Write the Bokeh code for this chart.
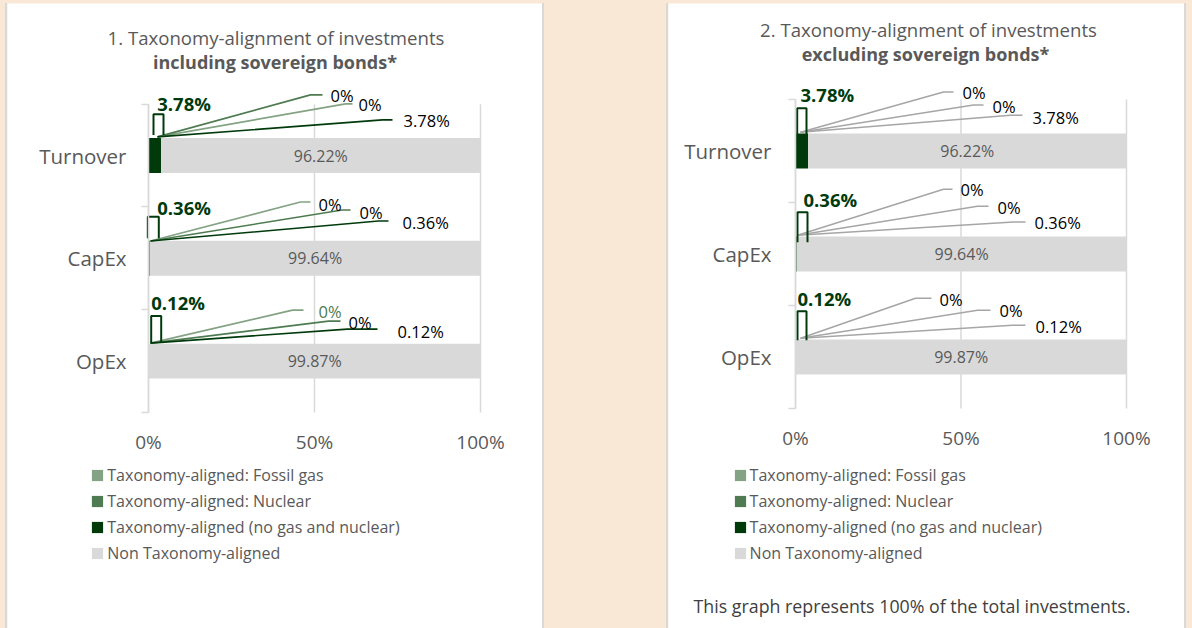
import numpy as np
from bokeh.plotting import figure
from bokeh.models import (Range1d, FixedTicker, Legend, LegendItem,
                          ColumnDataSource, Spacer)
from bokeh.layouts import row, column
from bokeh.core.properties import value
from bokeh.embed import file_html
from bokeh.resources import INLINE

# ---------------- data ----------------
categories = ["Turnover", "CapEx", "OpEx"]

fossil_gas_incl = [0, 0, 0]
nuclear_incl = [0, 0, 0]
aligned_incl = [3.78, 0.36, 0.12]
non_aligned_incl = [96.22, 99.64, 99.87]

fossil_gas_excl = [0, 0, 0]
nuclear_excl = [0, 0, 0]
aligned_excl = [3.78, 0.36, 0.12]
non_aligned_excl = [96.22, 99.64, 99.87]

x_ticks = [0, 50, 100]
x_tick_labels = ["0%", "50%", "100%"]

series_names = ["Taxonomy-aligned: Fossil gas", "Taxonomy-aligned: Nuclear",
                "Taxonomy-aligned (no gas and nuclear)", "Non Taxonomy-aligned"]

title_lines_1 = ["1. Taxonomy-alignment of investments", "including sovereign bonds*"]
title_lines_2 = ["2. Taxonomy-alignment of investments", "excluding sovereign bonds*"]
footnote = "This graph represents 100% of the total investments."

# ---------------- style ----------------
PEACH = "#FAE8D7"
GRID = "#D9D9D9"
TXT = "#595959"
COL_FOSSIL = "#84A284"
COL_NUCLEAR = "#4E7B51"
COL_ALIGNED = "#003A0B"
COL_NON = "#D9D9D9"
FONT = "Open Sans"
BAR_H = 0.34
H = 625

# leader-line layout (pixels relative to band centre / bar start), per category
# each series entry: (bend_dx, bend_up, end_dx, label_dx, label_up)
geom_1 = [
    dict(origin=(9, 18.7), bold=(8.7, 51.7), pi=(5, 15, 41.4, 20.7),
         s=[(197, 51.7, 204, 210, 50.7), (162, 60.7, 174, 182, 59.7), (234, 35.7, 244, 255, 34.7)]),
    dict(origin=(2, 17.3), bold=(8.7, 50.8), pi=(-0.7, 10.3, 41.6, 20),
         s=[(152, 56.3, 162, 170, 54.3), (193.7, 48.3, 202, 211, 46.3), (230, 37.3, 240, 254, 36.3)]),
    dict(origin=(2, 18), bold=(2.7, 59), pi=(2.7, 12.7, 45, 18),
         s=[(144, 51, 155, 170, 50), (180, 40, 192, 200, 39), (199, 32, 229, 249, 30)]),
]
geom_2 = [
    dict(origin=(5, 18.7), bold=(5, 56.7), pi=(1.7, 11, 42.7, 10.7),
         s=[(148, 59, 158, 167, 58.2), (178, 46, 188, 197, 44.7), (215, 35.7, 227, 237, 33.7)]),
    dict(origin=(2, 18.8), bold=(8, 54.8), pi=(2, 12, 41.8, 11.8),
         s=[(148, 64.8, 157, 165, 64.3), (182, 47.8, 193, 202, 46.3), (218, 32, 230, 239, 31.3)]),
    dict(origin=(5, 18.8), bold=(2, 58.8), pi=(2, 11, 45.8, 16.8),
         s=[(120, 58.8, 136, 144, 57.8), (182, 46.8, 195, 204, 46.8), (217, 31.8, 230, 240, 30.8)]),
]

# panel layout: panel page position, plot origin (0%, bottom of last band) and scales in px
cfg_1 = dict(px0=7, width=535, ox=148, oy=412, xpx=3.32, ypx=102.77, ystand=15,
             titles=[(127.5, 375), (126.5, 351)], legend=(83.3, 64))
cfg_2 = dict(px0=668, width=516, ox=795, oy=408, xpx=3.31, ypx=103.0, ystand=17,
             titles=[(133, 379), (130, 355)], legend=(64.6, 64), foot=(116.5, -197))
PAGE_TOP = 3


def pct(v):
    return "0%" if v == 0 else f"{v:.2f}%"


def make_panel(titles, fossil, nuclear, aligned, non, cfg, geom, line_cols, lbl_cols, foot=None):
    W = cfg["width"]
    xpx, ypx = cfg["xpx"], cfg["ypx"]
    x_start = -(cfg["ox"] - cfg["px0"]) / xpx
    x_end = (cfg["px0"] + W - cfg["ox"]) / xpx
    y_end = (cfg["oy"] - PAGE_TOP) / ypx
    y_start = -(PAGE_TOP + H - cfg["oy"]) / ypx

    p = figure(width=W, height=H, x_range=Range1d(x_start, x_end),
               y_range=Range1d(y_start, y_end), title=None,
               output_backend="svg", toolbar_location=None,
               min_border=0, min_border_left=0, min_border_right=0,
               min_border_top=0, min_border_bottom=0,
               border_fill_color="white", background_fill_color="white",
               outline_line_color=None)

    n = len(categories)
    yc = np.array([n - i - 0.5 for i in range(n)])
    f = np.array(fossil, float)
    nu = np.array(nuclear, float)
    a = np.array(aligned, float)
    na = np.array(non, float)
    src = ColumnDataSource(dict(y=yc, f0=0 * f, f1=f, n0=f, n1=f + nu, a0=f + nu, a1=f + nu + a,
                                g0=f + nu + a, g1=f + nu + a + na))

    # vertical gridlines
    p.segment(x0=x_ticks, x1=x_ticks, y0=[0] * len(x_ticks), y1=[n] * len(x_ticks),
              line_color=GRID, line_width=1.5)

    r_f = p.hbar(y="y", left="f0", right="f1", height=BAR_H, source=src,
                 fill_color=COL_FOSSIL, line_color=None)
    r_n = p.hbar(y="y", left="n0", right="n1", height=BAR_H, source=src,
                 fill_color=COL_NUCLEAR, line_color=None)
    r_a = p.hbar(y="y", left="a0", right="a1", height=BAR_H, source=src,
                 fill_color=COL_ALIGNED, line_color=None)
    r_g = p.hbar(y="y", left="g0", right="g1", height=BAR_H, source=src,
                 fill_color=COL_NON, line_color=None)

    # labels inside grey bars
    p.text(x=(src.data["g0"] + src.data["g1"]) / 2, y=yc, text=[pct(v) for v in na],
           text_font=value(FONT), text_font_size="16px", text_color=TXT,
           text_align="center", text_baseline="middle")

    series_vals = [f, nu, a]
    lx, ly, lc = [], [], []
    tx, ty, tt, tc = [], [], [], []
    px_, py_ = [], []
    bx, by, bt = [], [], []
    for i in range(n):
        g = geom[i]
        ox, oy = g["origin"]
        for k in range(3):
            bdx, bup, edx, ldx, lup = g["s"][k]
            lx.append([ox / xpx, bdx / xpx, edx / xpx])
            ly.append([yc[i] + oy / ypx, yc[i] + bup / ypx, yc[i] + bup / ypx])
            lc.append(line_cols[i][k])
            tx.append(ldx / xpx)
            ty.append(yc[i] + lup / ypx)
            tt.append(pct(series_vals[k][i]))
            tc.append(lbl_cols[i][k])
        x0, x1, ut, ub = g["pi"]
        px_.append([x0 / xpx, x0 / xpx, x1 / xpx, x1 / xpx])
        py_.append([yc[i] + ub / ypx, yc[i] + ut / ypx, yc[i] + ut / ypx, yc[i] + ub / ypx])
        bdx, bup = g["bold"]
        bx.append(bdx / xpx)
        by.append(yc[i] + bup / ypx)
        bt.append(pct(a[i] + f[i] + nu[i]))

    p.multi_line(xs=lx, ys=ly, line_color=lc, line_width=1.6)
    p.multi_line(xs=px_, ys=py_, line_color=COL_ALIGNED, line_width=2)
    p.text(x=tx, y=ty, text=tt, text_color=tc, text_font=value(FONT), text_font_size="16.5px",
           text_align="left", text_baseline="middle")
    p.text(x=bx, y=by, text=bt, text_color=COL_ALIGNED, text_font=value(FONT),
           text_font_size="18.5px", text_font_style="bold", text_align="left",
           text_baseline="middle")

    # titles
    (t1x, t1y), (t2x, t2y) = cfg["titles"]
    p.text(x=[t1x / xpx], y=[t1y / ypx], text=[titles[0]], text_font=value(FONT),
           text_font_size="18.6px", text_color=TXT, text_align="center", text_baseline="middle")
    p.text(x=[t2x / xpx], y=[t2y / ypx], text=[titles[1]], text_font=value(FONT),
           text_font_size="18px", text_font_style="bold", text_color=TXT,
           text_align="center", text_baseline="middle")
    if foot:
        fx, fy = cfg["foot"]
        p.text(x=[fx / xpx], y=[fy / ypx], text=[foot], text_font=value(FONT),
               text_font_size="17.8px", text_color="#404040", text_align="center",
               text_baseline="middle")

    # axes, drawn at fixed data locations
    p.xgrid.visible = False
    p.ygrid.visible = False
    xa = p.xaxis[0]
    xa.fixed_location = 0
    xa.ticker = FixedTicker(ticks=x_ticks)
    xa.major_label_overrides = {t: l for t, l in zip(x_ticks, x_tick_labels)}
    xa.axis_line_color = None
    xa.major_tick_line_color = None
    xa.minor_tick_line_color = None
    xa.major_label_text_font = FONT
    xa.major_label_text_font_size = "19px"
    xa.major_label_text_color = TXT
    xa.major_label_standoff = 10

    ya = p.yaxis[0]
    ya.fixed_location = 0
    ya.ticker = FixedTicker(ticks=list(yc), minor_ticks=list(range(n + 1)))
    ya.major_label_overrides = {float(y): c for y, c in zip(yc, categories)}
    ya.bounds = (0, n)
    ya.axis_line_color = GRID
    ya.axis_line_width = 1.5
    ya.major_tick_line_color = None
    ya.major_tick_out = 0
    ya.major_tick_in = 0
    ya.minor_tick_line_color = GRID
    ya.minor_tick_line_width = 1.5
    ya.minor_tick_out = 7
    ya.minor_tick_in = 0
    ya.major_label_text_font = FONT
    ya.major_label_text_font_size = "20.5px"
    ya.major_label_text_color = TXT
    ya.major_label_standoff = cfg["ystand"]

    legend = Legend(items=[LegendItem(label=series_names[0], renderers=[r_f]),
                           LegendItem(label=series_names[1], renderers=[r_n]),
                           LegendItem(label=series_names[2], renderers=[r_a]),
                           LegendItem(label=series_names[3], renderers=[r_g])],
                    location=cfg["legend"], orientation="vertical",
                    padding=0, margin=0, spacing=4, label_height=22,
                    glyph_height=14, glyph_width=14, label_standoff=3,
                    label_text_font=FONT, label_text_font_size="16px",
                    label_text_color=TXT, border_line_color=None,
                    background_fill_alpha=0)
    p.add_layout(legend)
    return p


lc1 = [[COL_FOSSIL, COL_NUCLEAR, COL_ALIGNED] for _ in range(3)]
tc1 = [["#000000", "#000000", "#000000"], ["#000000", "#000000", "#000000"],
       [COL_NUCLEAR, "#000000", "#000000"]]
gray = "#A6A6A6"
lc2 = [[gray, gray, gray] for _ in range(3)]
tc2 = [["#000000", "#000000", "#000000"] for _ in range(3)]

p1 = make_panel(title_lines_1, fossil_gas_incl, nuclear_incl, aligned_incl, non_aligned_incl,
                cfg_1, geom_1, lc1, tc1)
p2 = make_panel(title_lines_2, fossil_gas_excl, nuclear_excl, aligned_excl, non_aligned_excl,
                cfg_2, geom_2, lc2, tc2, foot=footnote)

edge_l = Spacer(width=7, height=H, styles={"background-color": PEACH,
                                           "box-shadow": "inset -2px 0 0 #D9D9D9"})
gap = Spacer(width=126, height=H, styles={
    "background-color": PEACH,
    "box-shadow": "inset 2px 0 0 #D9D9D9, inset -2px 0 0 #D9D9D9"})
edge_r = Spacer(width=8, height=H, styles={"background-color": PEACH,
                                           "box-shadow": "inset 2px 0 0 #D9D9D9"})
top = Spacer(width=1192, height=PAGE_TOP, styles={"background-color": PEACH})

p = column(top, row(edge_l, p1, gap, p2, edge_r), styles={"background-color": PEACH})
open("out.html", "w").write(file_html(p, INLINE))
